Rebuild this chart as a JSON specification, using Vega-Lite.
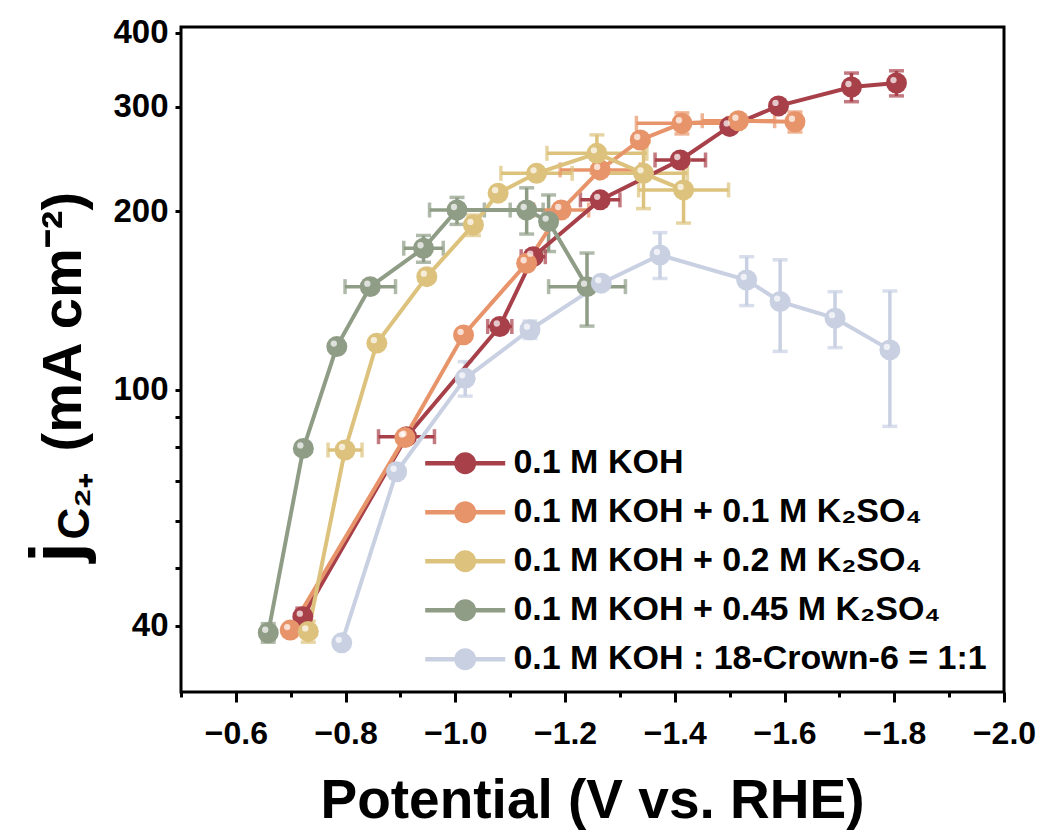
{
  "$schema": "https://vega.github.io/schema/vega-lite/v6.json",
  "width": 823,
  "height": 665,
  "autosize": {"type": "none"},
  "padding": {"left": 181, "top": 27, "right": 39, "bottom": 138},
  "background": "white",
  "config": {
    "view": {"stroke": "black", "strokeWidth": 3},
    "font": "Liberation Sans"
  },
  "data": {
    "values": [
      {"s": "0.1 M KOH", "x": -0.722, "y": 41.4, "ylo": 40, "yhi": 42.8},
      {"s": "0.1 M KOH", "x": -0.911, "y": 83.3, "xlo": -0.86, "xhi": -0.962},
      {"s": "0.1 M KOH", "x": -1.081, "y": 127.8, "xlo": -1.059, "xhi": -1.103},
      {"s": "0.1 M KOH", "x": -1.142, "y": 167.6, "xlo": -1.12, "xhi": -1.164},
      {"s": "0.1 M KOH", "x": -1.264, "y": 209, "xlo": -1.228, "xhi": -1.3},
      {"s": "0.1 M KOH", "x": -1.41, "y": 244, "xlo": -1.364, "xhi": -1.456},
      {"s": "0.1 M KOH", "x": -1.5, "y": 278, "ylo": 272, "yhi": 284},
      {"s": "0.1 M KOH", "x": -1.589, "y": 301, "ylo": 296, "yhi": 306},
      {"s": "0.1 M KOH", "x": -1.722, "y": 324, "ylo": 306, "yhi": 342},
      {"s": "0.1 M KOH", "x": -1.804, "y": 329, "ylo": 313, "yhi": 345},

      {"s": "0.1 M KOH + 0.1 M K₂SO₄", "x": -0.699, "y": 39.3},
      {"s": "0.1 M KOH + 0.1 M K₂SO₄", "x": -0.908, "y": 83},
      {"s": "0.1 M KOH + 0.1 M K₂SO₄", "x": -1.015, "y": 123.7},
      {"s": "0.1 M KOH + 0.1 M K₂SO₄", "x": -1.13, "y": 163.4},
      {"s": "0.1 M KOH + 0.1 M K₂SO₄", "x": -1.193, "y": 200.9, "xlo": -1.143, "xhi": -1.243},
      {"s": "0.1 M KOH + 0.1 M K₂SO₄", "x": -1.264, "y": 234.8, "xlo": -1.191, "xhi": -1.337},
      {"s": "0.1 M KOH + 0.1 M K₂SO₄", "x": -1.337, "y": 263.7},
      {"s": "0.1 M KOH + 0.1 M K₂SO₄", "x": -1.413, "y": 281.4, "xlo": -1.33, "xhi": -1.496, "ylo": 270, "yhi": 293},
      {"s": "0.1 M KOH + 0.1 M K₂SO₄", "x": -1.516, "y": 284.2, "xlo": -1.45, "xhi": -1.582},
      {"s": "0.1 M KOH + 0.1 M K₂SO₄", "x": -1.619, "y": 283.1, "ylo": 272, "yhi": 294},

      {"s": "0.1 M KOH + 0.2 M K₂SO₄", "x": -0.732, "y": 39.1, "ylo": 37.5, "yhi": 40.7},
      {"s": "0.1 M KOH + 0.2 M K₂SO₄", "x": -0.799, "y": 79.1, "xlo": -0.768, "xhi": -0.83},
      {"s": "0.1 M KOH + 0.2 M K₂SO₄", "x": -0.857, "y": 119.8},
      {"s": "0.1 M KOH + 0.2 M K₂SO₄", "x": -0.948, "y": 155.1},
      {"s": "0.1 M KOH + 0.2 M K₂SO₄", "x": -1.033, "y": 189.6, "ylo": 182, "yhi": 197},
      {"s": "0.1 M KOH + 0.2 M K₂SO₄", "x": -1.078, "y": 214.5},
      {"s": "0.1 M KOH + 0.2 M K₂SO₄", "x": -1.148, "y": 231.7, "xlo": -1.083, "xhi": -1.213},
      {"s": "0.1 M KOH + 0.2 M K₂SO₄", "x": -1.258, "y": 250.4, "xlo": -1.167, "xhi": -1.349, "ylo": 232, "yhi": 269},
      {"s": "0.1 M KOH + 0.2 M K₂SO₄", "x": -1.343, "y": 231.7, "xlo": -1.263, "xhi": -1.423, "ylo": 202, "yhi": 262},
      {"s": "0.1 M KOH + 0.2 M K₂SO₄", "x": -1.416, "y": 217.2, "xlo": -1.334, "xhi": -1.498, "ylo": 191, "yhi": 244},

      {"s": "0.1 M KOH + 0.45 M K₂SO₄", "x": -0.659, "y": 38.9, "ylo": 37.5, "yhi": 40.3},
      {"s": "0.1 M KOH + 0.45 M K₂SO₄", "x": -0.723, "y": 79.6},
      {"s": "0.1 M KOH + 0.45 M K₂SO₄", "x": -0.784, "y": 118.2},
      {"s": "0.1 M KOH + 0.45 M K₂SO₄", "x": -0.845, "y": 149.2, "xlo": -0.799, "xhi": -0.891},
      {"s": "0.1 M KOH + 0.45 M K₂SO₄", "x": -0.942, "y": 173.2, "xlo": -0.906, "xhi": -0.978, "ylo": 164, "yhi": 182},
      {"s": "0.1 M KOH + 0.45 M K₂SO₄", "x": -1.003, "y": 200.9, "xlo": -0.953, "xhi": -1.053, "ylo": 190, "yhi": 211},
      {"s": "0.1 M KOH + 0.45 M K₂SO₄", "x": -1.13, "y": 200.9, "xlo": -1.1, "xhi": -1.16, "ylo": 183, "yhi": 219},
      {"s": "0.1 M KOH + 0.45 M K₂SO₄", "x": -1.17, "y": 192.1, "ylo": 171, "yhi": 213},
      {"s": "0.1 M KOH + 0.45 M K₂SO₄", "x": -1.24, "y": 149.2, "xlo": -1.17, "xhi": -1.31, "ylo": 128, "yhi": 170},

      {"s": "0.1 M KOH : 18-Crown-6 = 1:1", "x": -0.793, "y": 37.4},
      {"s": "0.1 M KOH : 18-Crown-6 = 1:1", "x": -0.893, "y": 72.7},
      {"s": "0.1 M KOH : 18-Crown-6 = 1:1", "x": -1.018, "y": 104.5, "ylo": 97.5, "yhi": 111.5},
      {"s": "0.1 M KOH : 18-Crown-6 = 1:1", "x": -1.136, "y": 126.2, "ylo": 122, "yhi": 130.5},
      {"s": "0.1 M KOH : 18-Crown-6 = 1:1", "x": -1.266, "y": 151.2, "ylo": 148, "yhi": 154},
      {"s": "0.1 M KOH : 18-Crown-6 = 1:1", "x": -1.373, "y": 168.7, "ylo": 154, "yhi": 184},
      {"s": "0.1 M KOH : 18-Crown-6 = 1:1", "x": -1.531, "y": 153.1, "ylo": 138.6, "yhi": 167.6},
      {"s": "0.1 M KOH : 18-Crown-6 = 1:1", "x": -1.592, "y": 140.8, "ylo": 116, "yhi": 165.6},
      {"s": "0.1 M KOH : 18-Crown-6 = 1:1", "x": -1.692, "y": 132, "ylo": 117.7, "yhi": 146.3},
      {"s": "0.1 M KOH : 18-Crown-6 = 1:1", "x": -1.792, "y": 116.7, "ylo": 86.7, "yhi": 146.7}
    ]
  },
  "resolve": {"axis": {"y": "independent"}},
  "layer": [
    {
      "mark": {"type": "rule", "strokeWidth": 3.5},
      "encoding": {
        "x": {"field": "x", "type": "quantitative", "title": "Potential (V vs. RHE)"},
        "y": {
          "field": "ylo", "type": "quantitative",
          "scale": {"type": "log", "domain": [30.9, 409], "nice": false, "zero": false},
          "axis": {
            "orient": "left",
            "values": [40, 50, 60, 70, 80, 90, 100, 200, 300, 400],
            "labelExpr": "datum.value == 40 || datum.value >= 100 ? format(datum.value, 'd') : ''",
            "domain": false, "grid": false,
            "tickColor": "black", "tickWidth": 3, "tickSize": 6,
            "labelFont": "Liberation Sans", "labelFontWeight": "bold", "labelFontSize": 33, "labelColor": "black",
            "labelPadding": 7,
            "title": "(mA cm⁻²)",
            "titleFont": "Liberation Sans", "titleFontWeight": "bold", "titleFontSize": 56, "titleColor": "black",
            "titleAngle": -90, "titleAlign": "left", "titleBaseline": "alphabetic",
            "titleX": -101, "titleY": 424
          }
        },
        "y2": {"field": "yhi"},
        "stroke": {
          "field": "s", "type": "nominal", "legend": null,
          "scale": {
            "domain": ["0.1 M KOH : 18-Crown-6 = 1:1", "0.1 M KOH + 0.45 M K₂SO₄", "0.1 M KOH + 0.2 M K₂SO₄", "0.1 M KOH + 0.1 M K₂SO₄", "0.1 M KOH"],
            "range": ["#c8d0e2", "#8f9c86", "#dcc27c", "#e8946a", "#a8404a"]
          }
        }
      }
    },
    {
      "mark": {"type": "rule", "strokeWidth": 3.5},
      "encoding": {
        "x": {"field": "xlo", "type": "quantitative", "title": "Potential (V vs. RHE)"},
        "x2": {"field": "xhi"},
        "y": {
          "field": "y", "type": "quantitative",
          "scale": {"type": "log", "domain": [30.9, 409], "nice": false, "zero": false},
          "axis": {
            "orient": "left", "domain": false, "ticks": false, "labels": false, "grid": false,
            "title": "j",
            "titleFont": "Liberation Sans", "titleFontWeight": "bold", "titleFontSize": 72, "titleColor": "black",
            "titleAngle": -90, "titleAlign": "left", "titleBaseline": "alphabetic",
            "titleX": -101, "titleY": 535
          }
        },
        "stroke": {"field": "s", "type": "nominal", "legend": null}
      }
    },
    {
      "mark": {"type": "tick", "orient": "horizontal", "thickness": 3.5, "size": 15},
      "encoding": {
        "x": {"field": "x", "type": "quantitative", "title": "Potential (V vs. RHE)"},
        "y": {
          "field": "yhi", "type": "quantitative",
          "scale": {"type": "log", "domain": [30.9, 409], "nice": false, "zero": false},
          "axis": {
            "orient": "left", "domain": false, "ticks": false, "labels": false, "grid": false,
            "title": "C₂₊",
            "titleFont": "Liberation Sans", "titleFontWeight": "bold", "titleFontSize": 44, "titleColor": "black",
            "titleAngle": -90, "titleAlign": "left", "titleBaseline": "alphabetic",
            "titleX": -93, "titleY": 512
          }
        },
        "fill": {
          "field": "s", "type": "nominal", "legend": null,
          "scale": {
            "domain": ["0.1 M KOH : 18-Crown-6 = 1:1", "0.1 M KOH + 0.45 M K₂SO₄", "0.1 M KOH + 0.2 M K₂SO₄", "0.1 M KOH + 0.1 M K₂SO₄", "0.1 M KOH"],
            "range": ["#c8d0e2", "#8f9c86", "#dcc27c", "#e8946a", "#a8404a"]
          }
        }
      }
    },
    {
      "mark": {"type": "tick", "orient": "horizontal", "thickness": 3.5, "size": 15},
      "encoding": {
        "x": {"field": "x", "type": "quantitative", "title": "Potential (V vs. RHE)"},
        "y": {"field": "ylo", "type": "quantitative", "scale": {"type": "log", "domain": [30.9, 409], "nice": false, "zero": false}, "axis": null},
        "fill": {"field": "s", "type": "nominal", "legend": null}
      }
    },
    {
      "mark": {"type": "tick", "orient": "vertical", "thickness": 3.5, "size": 15},
      "encoding": {
        "x": {"field": "xlo", "type": "quantitative", "title": "Potential (V vs. RHE)"},
        "y": {"field": "y", "type": "quantitative", "scale": {"type": "log", "domain": [30.9, 409], "nice": false, "zero": false}, "axis": null},
        "fill": {"field": "s", "type": "nominal", "legend": null}
      }
    },
    {
      "mark": {"type": "tick", "orient": "vertical", "thickness": 3.5, "size": 15},
      "encoding": {
        "x": {"field": "xhi", "type": "quantitative", "title": "Potential (V vs. RHE)"},
        "y": {"field": "y", "type": "quantitative", "scale": {"type": "log", "domain": [30.9, 409], "nice": false, "zero": false}, "axis": null},
        "fill": {"field": "s", "type": "nominal", "legend": null}
      }
    },
    {
      "mark": {"type": "line", "strokeWidth": 4},
      "encoding": {
        "x": {"field": "x", "type": "quantitative", "title": "Potential (V vs. RHE)"},
        "y": {"field": "y", "type": "quantitative", "scale": {"type": "log", "domain": [30.9, 409], "nice": false, "zero": false}, "axis": null},
        "stroke": {"field": "s", "type": "nominal", "legend": null}
      }
    },
    {
      "mark": {"type": "point", "filled": true, "opacity": 1, "size": 440},
      "encoding": {
        "x": {
          "field": "x", "type": "quantitative", "title": "Potential (V vs. RHE)",
          "scale": {"domain": [-0.5, -2.0], "nice": false, "zero": false},
          "axis": {
            "values": [-0.5, -0.6, -0.7, -0.8, -0.9, -1.0, -1.1, -1.2, -1.3, -1.4, -1.5, -1.6, -1.7, -1.8, -1.9, -2.0],
            "labelExpr": "abs(round(datum.value * 10)) % 2 == 0 ? format(datum.value, '.1f') : ''",
            "domain": false, "grid": false,
            "tickColor": "black", "tickWidth": 3,
            "tickSize": {"condition": {"test": "abs(round(datum.value * 10)) % 2 == 0", "value": 10}, "value": 5},
            "labelFont": "Liberation Sans", "labelFontWeight": "bold", "labelFontSize": 32, "labelColor": "black",
            "labelPadding": 16, "labelFlush": false, "labelOverlap": false,
            "titleFont": "Liberation Sans", "titleFontWeight": "bold", "titleFontSize": 55, "titleColor": "black",
            "titleBaseline": "alphabetic", "titleY": 125, "titleX": 411
          }
        },
        "y": {"field": "y", "type": "quantitative", "scale": {"type": "log", "domain": [30.9, 409], "nice": false, "zero": false}, "axis": null},
        "color": {
          "field": "s", "type": "nominal",
          "scale": {
            "domain": ["0.1 M KOH", "0.1 M KOH + 0.1 M K₂SO₄", "0.1 M KOH + 0.2 M K₂SO₄", "0.1 M KOH + 0.45 M K₂SO₄", "0.1 M KOH : 18-Crown-6 = 1:1"],
            "range": ["#a8404a", "#e8946a", "#dcc27c", "#8f9c86", "#c8d0e2"]
          },
          "legend": {
            "orient": "none", "legendX": 252.7, "legendY": 404.7,
            "title": null,
            "symbolSize": 3920, "symbolStrokeWidth": 0,
            "labelFont": "Liberation Sans", "labelFontWeight": "bold", "labelFontSize": 34, "labelColor": "black",
            "labelOffset": 16.7, "rowPadding": 0, "labelLimit": 600,
            "encoding": {
              "symbols": {
                "shape": {"value": "M-1.278,-0.07L-0.3,-0.07L-0.3,0.07L-1.278,0.07Z M0.3,-0.07L1.278,-0.07L1.278,0.07L0.3,0.07Z M-0.351,0A0.351,0.351,0,1,1,0.351,0A0.351,0.351,0,1,1,-0.351,0Z"},
                "opacity": {"value": 1}
              }
            }
          }
        }
      }
    },
    {
      "mark": {"type": "point", "filled": true, "color": "white", "opacity": 0.7, "size": 40, "xOffset": -3, "yOffset": -3},
      "encoding": {
        "x": {"field": "x", "type": "quantitative", "title": "Potential (V vs. RHE)"},
        "y": {"field": "y", "type": "quantitative", "scale": {"type": "log", "domain": [30.9, 409], "nice": false, "zero": false}, "axis": null}
      }
    }
  ]
}
